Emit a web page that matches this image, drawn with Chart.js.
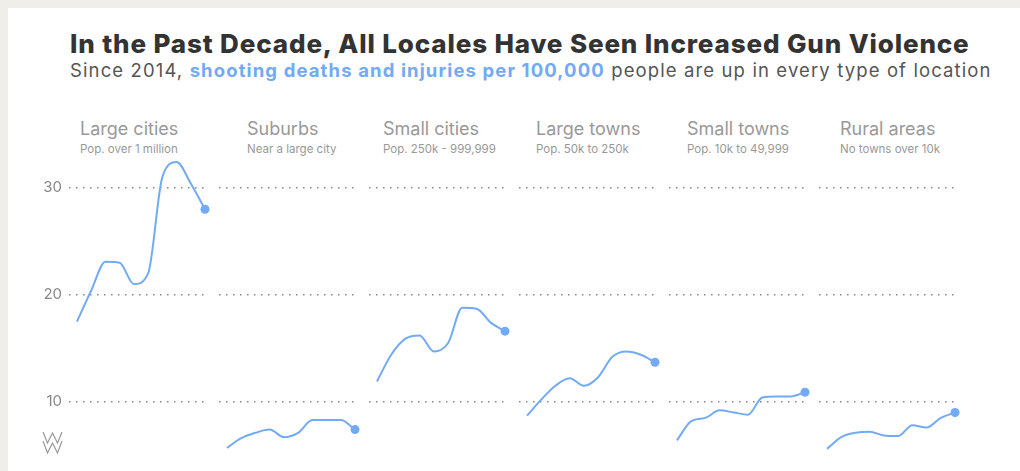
<!DOCTYPE html>
<html>
<head>
<meta charset="utf-8">
<script src="https://cdn.jsdelivr.net/npm/chart.js@4"></script>
<style>
  html, body { margin: 0; padding: 0; width: 1020px; height: 471px; overflow: hidden; background: #efeee9; font-family: Inter, sans-serif; }
  #card { position: absolute; left: 8px; top: 8px; width: 1012px; height: 480px; background: #fff; }
  #title { position: absolute; left: 70px; top: 28px; font-size: 26px; font-weight: 800; color: #333; white-space: nowrap; }
  #subtitle { position: absolute; left: 70px; top: 59px; font-size: 18.5px; color: #555; white-space: nowrap; }
  #subtitle b { color: #73aaf4; font-weight: 700; }
  .head { position: absolute; top: 118px; white-space: nowrap; }
  .head .name { font-size: 18px; color: #999; }
  .head .sub { font-size: 11.5px; color: #999; margin-top: 3px; }
  canvas { position: absolute; }
  #logo { position: absolute; left: 42px; top: 431px; }
</style>
</head>
<body>
<div id="card"></div>
<div id="title">In the Past Decade, All Locales Have Seen Increased Gun Violence</div>
<div id="subtitle">Since 2014, <b>shooting deaths and injuries per 100,000</b> people are up in every type of location</div>
<svg id="logo" width="22" height="24" viewBox="0 0 22 24">
  <polyline points="1,1 5.5,12 10.5,2 15.5,12 20,1" fill="none" stroke="#999" stroke-width="1.2"/>
  <polyline points="1,10 5.5,22 10.5,12 15.5,22 20,10" fill="none" stroke="#999" stroke-width="1.2"/>
</svg>
<div id="charts"></div>
<script>
const years = [2014, 2015, 2016, 2017, 2018, 2019, 2020, 2021, 2022, 2023];
const locales = ['Large cities', 'Suburbs', 'Small cities', 'Large towns', 'Small towns', 'Rural areas'];
const notes = ['Pop. over 1 million', 'Near a large city', 'Pop. 250k - 999,999', 'Pop. 50k to 250k', 'Pop. 10k to 49,999', 'No towns over 10k'];

const largeCities = [17.5, 20.4, 23.1, 23.0, 21.0, 22.0, 31.0, 32.4, 30.4, 28.0];
const suburbs = [5.7, 6.6, 7.1, 7.4, 6.7, 7.1, 8.3, 8.3, 8.3, 7.4];
const smallCities = [11.9, 14.4, 15.9, 16.2, 14.7, 15.5, 18.8, 18.7, 17.4, 16.6];
const largeTowns = [8.7, 10.2, 11.5, 12.2, 11.5, 12.3, 14.2, 14.7, 14.4, 13.7];
const smallTowns = [6.4, 8.2, 8.5, 9.2, 9.0, 8.8, 10.4, 10.5, 10.5, 10.9];
const ruralAreas = [5.6, 6.7, 7.1, 7.2, 6.85, 6.8, 7.8, 7.6, 8.5, 9.0];

const seriesList = [largeCities, suburbs, smallCities, largeTowns, smallTowns, ruralAreas];
const yTicks = [10, 20, 30];

const blue = '#73aaf4';
const panelStep = 150;
const areaLeft = 69;
const areaWidth = 139;
const axisWidth = 40;
const sidePad = 8;   // room so the end dot is not cut off
const canvasTop = 125;
const canvasHeight = 361;

// stretch the two heading lines to the width they have in the original
function fitWidth(id, target) {
  const el = document.getElementById(id);
  const chars = el.textContent.length;
  el.style.letterSpacing = ((target - el.offsetWidth) / chars) + 'px';
}
fitWidth('title', 900);
fitWidth('subtitle', 922);

const holder = document.getElementById('charts');
const headLefts = [80, 247, 383, 536, 687, 840];

seriesList.forEach((values, k) => {
  const first = k === 0;
  const left = areaLeft + panelStep * k - (first ? axisWidth : sidePad);
  const width = areaWidth + (first ? axisWidth : sidePad) + sidePad;

  const head = document.createElement('div');
  head.className = 'head';
  head.style.left = headLefts[k] + 'px';
  head.innerHTML = '<div class="name">' + locales[k] + '</div><div class="sub">' + notes[k] + '</div>';
  holder.appendChild(head);

  const canvas = document.createElement('canvas');
  canvas.style.left = left + 'px';
  canvas.style.top = canvasTop + 'px';
  canvas.style.width = width + 'px';
  canvas.style.height = canvasHeight + 'px';
  canvas.width = width;
  canvas.height = canvasHeight;
  holder.appendChild(canvas);

  new Chart(canvas.getContext('2d'), {
    type: 'line',
    data: {
      datasets: [{
        data: years.map((yr, i) => ({ x: yr, y: values[i] })),
        borderColor: blue,
        backgroundColor: blue,
        borderWidth: 2,
        cubicInterpolationMode: 'monotone',
        pointRadius: values.map((v, i) => i === values.length - 1 ? 4.5 : 0),
        pointBorderWidth: 0,
        pointHoverRadius: 0,
        clip: false,
        fill: false
      }]
    },
    options: {
      responsive: false,
      animation: false,
      layout: {
        autoPadding: false,
        padding: { top: 20, bottom: 20, left: first ? 0 : sidePad, right: sidePad }
      },
      plugins: { legend: { display: false }, tooltip: { enabled: false } },
      scales: {
        x: {
          type: 'linear',
          display: false,
          min: 2013.44,
          max: 2023.21
        },
        y: {
          min: 4,
          max: 34,
          afterBuildTicks: (scale) => { scale.ticks = yTicks.map(v => ({ value: v })); },
          afterFit: (scale) => { scale.width = first ? axisWidth : 0; },
          border: { display: false, dash: [1.5, 5.5] },
          grid: {
            drawTicks: false,
            color: '#888',
            lineWidth: 1.5
          },
          ticks: {
            display: first,
            padding: 7,
            color: '#888',
            font: { family: 'Inter', size: 15 }
          }
        }
      }
    }
  });
});
</script>
</body>
</html>
